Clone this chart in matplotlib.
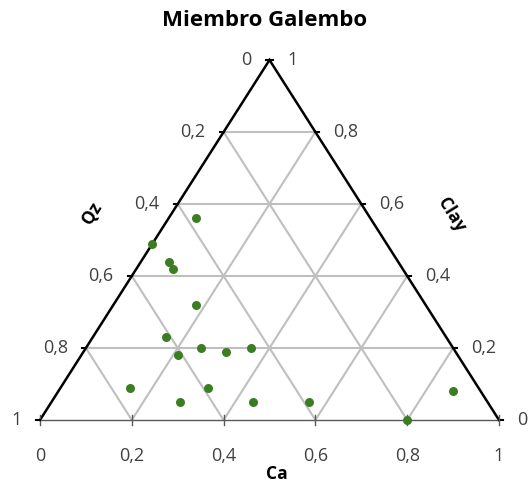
import matplotlib.pyplot as plt
import numpy as np

plt.rcParams['font.family'] = ['Open Sans', 'DejaVu Sans']

# ternary compositions (fractions), Qz = 1 - Ca - Clay
ca = [0.06, 0.00, 0.06, 0.08, 0.18, 0.16, 0.21, 0.25, 0.31, 0.36,
      0.15, 0.32, 0.28, 0.44, 0.56, 0.80, 0.86]
clay = [0.56, 0.49, 0.44, 0.42, 0.32, 0.23, 0.18, 0.20, 0.19, 0.20,
        0.09, 0.09, 0.05, 0.05, 0.05, 0.00, 0.08]
qz = [1 - a - c for a, c in zip(ca, clay)]

ticks = [0, 0.2, 0.4, 0.6, 0.8, 1]
tick_labels = ["0", "0,2", "0,4", "0,6", "0,8", "1"]
title = "Miembro Galembo"

H = np.sqrt(3) / 2


def to_xy(a, c):
    a = np.asarray(a)
    c = np.asarray(c)
    return a + c / 2, c * H


fig = plt.figure(figsize=(5.28, 4.83), dpi=100)
ax = fig.add_axes([40 / 528, 63 / 483, 459 / 528, 360 / 483])
ax.set_xlim(0, 1)
ax.set_ylim(0, H)
ax.axis("off")

grid_kw = dict(color="#bfbfbf", lw=1.5, zorder=1)
for t in ticks[1:-1]:
    # clay constant
    x0, y0 = to_xy(0, t)
    x1, y1 = to_xy(1 - t, t)
    ax.plot([x0, x1], [y0, y1], **grid_kw)
    # ca constant
    x0, y0 = to_xy(t, 0)
    x1, y1 = to_xy(t, 1 - t)
    ax.plot([x0, x1], [y0, y1], **grid_kw)
    # qz constant
    x0, y0 = to_xy(1 - t, 0)
    x1, y1 = to_xy(0, 1 - t)
    ax.plot([x0, x1], [y0, y1], **grid_kw)

# outline
ax.plot([0, 0.5, 1], [0, H, 0], color="black", lw=1.8, zorder=3,
        solid_joinstyle="miter", clip_on=False)
ax.plot([0, 1], [0, 0], color="#595959", lw=1.0, zorder=3, clip_on=False)

# tick marks
for t in ticks:
    ax.plot([t, t], [-0.012, 0.012], color="#595959", lw=1.0, zorder=3, clip_on=False)
    xl, yl = to_xy(0, 1 - t)
    ax.plot([xl - 0.008, xl], [yl, yl], color="black", lw=1.5, zorder=3, clip_on=False)
    xr, yr = to_xy(1 - t, t)
    ax.plot([xr, xr + 0.008], [yr, yr], color="black", lw=1.5, zorder=3, clip_on=False)

fs = 13
for t, lab in zip(ticks, tick_labels):
    # bottom: Ca
    ax.annotate(lab, (t, 0), xytext=(0, -26), textcoords="offset points",
                ha="center", va="center", fontsize=fs, color="#404040",
                annotation_clip=False)
    # left: Qz (0 at top)
    xl, yl = to_xy(0, 1 - t)
    ax.annotate(lab, (xl, yl), xytext=(-13, 0), textcoords="offset points",
                ha="right", va="center", fontsize=fs, color="#404040",
                annotation_clip=False)
    # right: Clay (1 at top)
    xr, yr = to_xy(1 - t, t)
    ax.annotate(lab, (xr, yr), xytext=(13, 0), textcoords="offset points",
                ha="left", va="center", fontsize=fs, color="#404040",
                annotation_clip=False)

x, y = to_xy(ca, clay)
ax.scatter(x, y, s=42, color="#3a7d22", zorder=4, clip_on=False, linewidths=0)

fig.text(265 / 528, 1 - 21 / 483, title, ha="center", va="center",
         fontsize=16, fontweight="bold")
fig.text(92 / 528, 1 - 213 / 483, "Qz", ha="center", va="center",
         fontsize=12.5, fontweight="bold", rotation=58)
fig.text(451 / 528, 1 - 215 / 483, "Clay", ha="center", va="center",
         fontsize=12.5, fontweight="bold", rotation=-58)
fig.text(277 / 528, 1 - 474 / 483, "Ca", ha="center", va="center",
         fontsize=12.5, fontweight="bold")

fig.savefig("out.png", dpi=100)
